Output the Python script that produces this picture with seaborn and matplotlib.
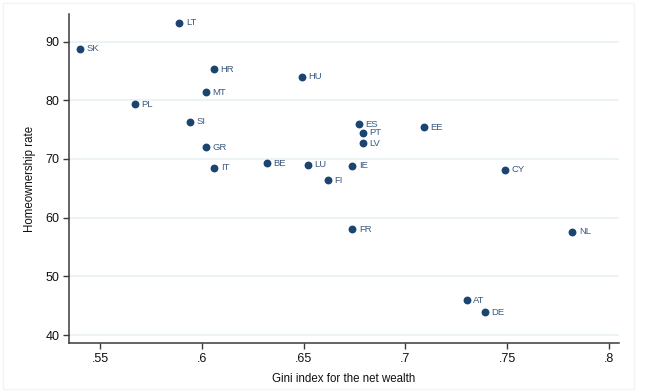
import matplotlib
matplotlib.use("Agg")
import matplotlib.pyplot as plt
import seaborn as sns
import pandas as pd
from matplotlib.patches import Rectangle

# --- data ---
countries = ["LT", "SK", "HR", "HU", "MT", "PL", "SI", "GR", "IT", "BE", "LU",
             "ES", "PT", "LV", "EE", "IE", "FI", "CY", "FR", "NL", "AT", "DE"]
gini = [0.589, 0.540, 0.606, 0.649, 0.602, 0.567, 0.594, 0.602, 0.606, 0.632, 0.652,
        0.677, 0.679, 0.679, 0.709, 0.674, 0.662, 0.749, 0.674, 0.782, 0.730, 0.739]
homeown = [93.2, 88.8, 85.3, 84.0, 81.4, 79.3, 76.3, 72.0, 68.5, 69.3, 69.0,
           75.9, 74.5, 72.7, 75.4, 68.8, 66.4, 68.2, 58.0, 57.6, 45.9, 43.9]
x_ticks = [0.55, 0.6, 0.65, 0.7, 0.75, 0.8]
x_tick_labels = [".55", ".6", ".65", ".7", ".75", ".8"]
y_ticks = [40, 50, 60, 70, 80, 90]

df = pd.DataFrame({"country": countries, "gini": gini, "homeown": homeown})

sns.set_style("white")
plt.rcParams["font.family"] = ["Liberation Sans", "DejaVu Sans"]

navy = "#1c4470"
fig = plt.figure(figsize=(6.5, 3.92), dpi=100)
ax = fig.add_axes([0.1062, 0.125, 0.8462, 0.8393])

# faint outer frame of the graph region
fig.patches.append(Rectangle((0.004, 0.008), 0.972, 0.985, transform=fig.transFigure,
                             fill=False, edgecolor="#f4f4f4", linewidth=1))

sns.scatterplot(data=df, x="gini", y="homeown", ax=ax, color=navy, s=32,
                edgecolor=navy, linewidth=0, zorder=3)

for _, r in df.iterrows():
    ax.annotate(r["country"], (r["gini"], r["homeown"]), xytext=(4.8, 0),
                textcoords="offset points", va="center", ha="left",
                fontsize=6.8, color="#3b5a80")

ax.set_xlim(0.5348, 0.8049)
ax.set_ylim(38.64, 94.7)
ax.set_xticks(x_ticks)
ax.set_xticklabels(x_tick_labels)
ax.set_yticks(y_ticks)

ax.yaxis.grid(True, color="#e6f0f1", linewidth=1.1)
ax.xaxis.grid(False)
ax.set_axisbelow(True)

for side in ["top", "right"]:
    ax.spines[side].set_visible(False)
for side in ["left", "bottom"]:
    ax.spines[side].set_color("#3a3a3a")
    ax.spines[side].set_linewidth(1.1)

ax.tick_params(axis="both", direction="out", length=4, width=1, color="#3a3a3a",
               labelsize=9, labelcolor="#111111", pad=3)
ax.tick_params(axis="y", left=True)
ax.tick_params(axis="x", bottom=True)

ax.set_xlabel("Gini index for the net wealth", fontsize=8.3, color="#111111", labelpad=6)
ax.set_ylabel("Homeownership rate", fontsize=8.3, color="#111111", labelpad=7)

fig.savefig("out.png", dpi=100, facecolor="white")
